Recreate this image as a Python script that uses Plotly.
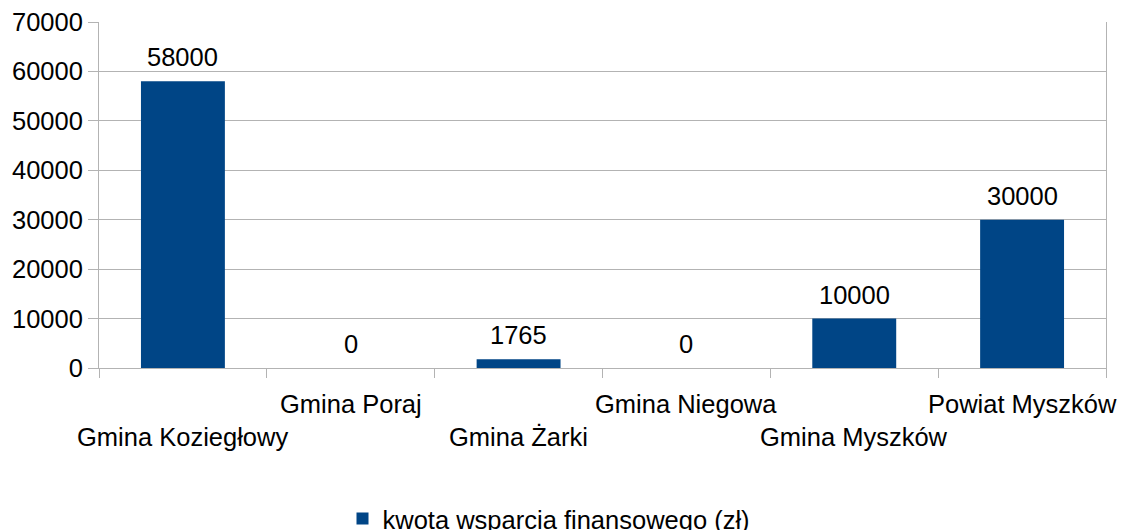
import plotly.graph_objects as go

categories = ["Gmina Koziegłowy", "Gmina Poraj", "Gmina Żarki", "Gmina Niegowa", "Gmina Myszków", "Powiat Myszków"]
values = [58000, 0, 1765, 0, 10000, 30000]
series_name = "kwota wsparcia finansowego (zł)"
y_ticks = [0, 10000, 20000, 30000, 40000, 50000, 60000, 70000]

FONT = "Liberation Sans, Arial, sans-serif"
FS = 25.5
BLUE = "#004586"
GRID = "#b3b3b3"

xpos = list(range(len(categories)))

fig = go.Figure()
fig.add_trace(go.Bar(x=xpos, y=values, name=series_name, marker=dict(color=BLUE, line=dict(width=0)),
                     width=0.5, showlegend=True))

annotations = []
for i, v in enumerate(values):
    annotations.append(dict(x=i, y=v, xref="x", yref="y", text=str(v), showarrow=False,
                            yanchor="bottom", yshift=8, font=dict(family=FONT, size=FS, color="#000")))
for i, c in enumerate(categories):
    row_y = 437 if i % 2 == 0 else 404
    annotations.append(dict(x=i, y=1 - (row_y - 22) / 346.0, xref="x", yref="paper", text=c, showarrow=False,
                            yanchor="middle", xanchor="center", font=dict(family=FONT, size=FS, color="#000")))

fig.update_layout(
    width=1125, height=530,
    margin=dict(l=99, r=19, t=22, b=162, autoexpand=False),
    paper_bgcolor="white", plot_bgcolor="white",
    font=dict(family=FONT, size=FS, color="#000"),
    annotations=annotations,
    showlegend=True,
    legend=dict(orientation="h", xref="container", yref="container", x=549 / 1125.0, y=1 - 519 / 530.0,
                xanchor="center", yanchor="middle", font=dict(family=FONT, size=FS, color="#000"),
                itemwidth=30),
    bargap=0.5,
)
fig.update_xaxes(range=[-0.5, len(categories) - 0.5], tickvals=[i - 0.5 for i in range(len(categories) + 1)],
                 ticktext=[""] * (len(categories) + 1), ticks="outside", ticklen=9, tickcolor=GRID,
                 showgrid=False, showline=True, linecolor=GRID, linewidth=1, zeroline=False, fixedrange=True)
fig.update_yaxes(range=[0, 70000], tickvals=y_ticks, ticktext=[str(t) for t in y_ticks],
                 ticks="outside", ticklen=10, tickcolor=GRID, showgrid=True, gridcolor=GRID, gridwidth=1,
                 showline=True, linecolor=GRID, linewidth=1, mirror=True, zeroline=False,
                 tickfont=dict(family=FONT, size=FS, color="#000"))

fig.write_html("out.html", config={"displayModeBar": False},
               post_script="document.body.style.margin='0';document.body.style.overflow='hidden';")
